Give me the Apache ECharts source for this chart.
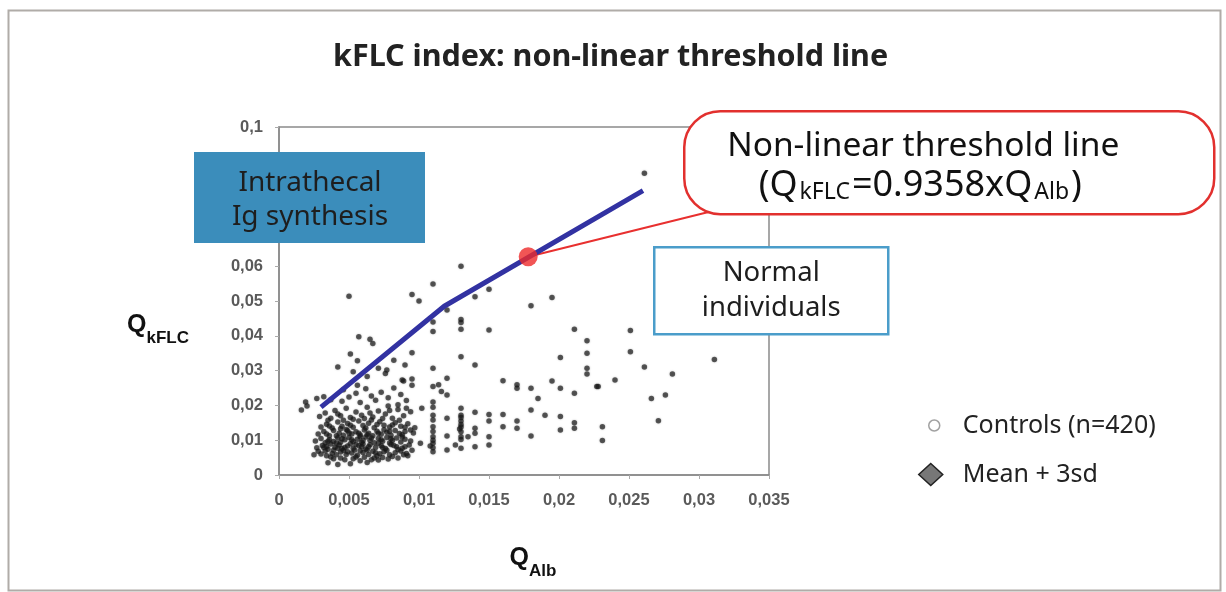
<!DOCTYPE html>
<html>
<head>
<meta charset="utf-8">
<script src="https://cdn.jsdelivr.net/npm/echarts@6/dist/echarts.min.js"></script>
<style>html,body{margin:0;padding:0;background:#fff;}#c{width:1226px;height:592px;}</style>
</head>
<body>
<div id="c"></div>
<script>
// ---- data (QAlb, QkFLC) ----
const controlsCluster = [
[0.0035,0.0035],[0.0042,0.003],[0.0051,0.0032],[0.0058,0.0041],[0.0063,0.0036],[0.0071,0.0043],[0.0078,0.0046],[0.0085,0.0049],[0.0039,0.0047],[0.0047,0.0044],[0.0068,0.0049],[0.0092,0.0055],[0.0055,0.0052],
[0.0025,0.0058],[0.003,0.006],[0.0034,0.0055],[0.0038,0.0062],[0.0041,0.0058],[0.0044,0.0066],[0.0048,0.0059],[0.0052,0.0063],[0.0056,0.0057],[0.006,0.0065],[0.0064,0.0059],[0.0067,0.0068],[0.0072,0.0061],[0.0075,0.0067],[0.0079,0.0058],[0.0083,0.0064],[0.0087,0.0069],[0.0091,0.0062],[0.0095,0.0071],[0.0028,0.0068],[0.0046,0.0071],[0.0058,0.007],[0.007,0.0055],
[0.0027,0.0078],[0.0031,0.0085],[0.0035,0.0074],[0.0037,0.0089],[0.004,0.008],[0.0043,0.0086],[0.0045,0.0076],[0.0049,0.0083],[0.0053,0.0077],[0.0055,0.0088],[0.0059,0.0081],[0.0062,0.0075],[0.0065,0.0087],[0.0069,0.0079],[0.0073,0.0084],[0.0076,0.0076],[0.008,0.0088],[0.0084,0.0081],[0.0088,0.0077],[0.0093,0.0086],[0.0034,0.0082],[0.0051,0.009],[0.0071,0.0091],[0.0047,0.0079],[0.006,0.0089],
[0.0026,0.0098],[0.003,0.0105],[0.0033,0.0093],[0.0036,0.0101],[0.0039,0.0096],[0.0042,0.0107],[0.0044,0.0094],[0.0047,0.0101],[0.005,0.0108],[0.0053,0.0096],[0.0056,0.0103],[0.0059,0.0094],[0.0062,0.0109],[0.0065,0.01],[0.0068,0.0093],[0.0071,0.0105],[0.0074,0.0097],[0.0077,0.0108],[0.0081,0.0099],[0.0084,0.0106],[0.0087,0.0095],[0.009,0.0103],[0.0094,0.0098],[0.0041,0.0092],[0.0058,0.011],[0.0079,0.0092],
[0.0028,0.0118],[0.0032,0.0125],[0.0036,0.0113],[0.0039,0.0128],[0.0043,0.012],[0.0046,0.0114],[0.0049,0.0127],[0.0052,0.0118],[0.0055,0.0124],[0.0058,0.0115],[0.0061,0.0129],[0.0064,0.012],[0.0067,0.0113],[0.007,0.0126],[0.0073,0.0117],[0.0077,0.0123],[0.008,0.0114],[0.0083,0.0128],[0.0086,0.0119],[0.009,0.0125],[0.0096,0.0121],[0.0075,0.013],[0.0048,0.0131],
[0.003,0.0138],[0.0034,0.0146],[0.0038,0.0135],[0.0042,0.0152],[0.0045,0.014],[0.0049,0.0148],[0.0053,0.0137],[0.0057,0.0155],[0.006,0.0142],[0.0064,0.0149],[0.0068,0.0136],[0.0072,0.0153],[0.0075,0.0143],[0.0079,0.0138],[0.0083,0.015],[0.0087,0.014],[0.0092,0.0147],[0.0097,0.0136],[0.0066,0.0158],[0.0046,0.0157],
[0.0029,0.0168],[0.0033,0.0178],[0.0037,0.0163],[0.004,0.0185],[0.0044,0.017],[0.0048,0.0192],[0.0051,0.0165],[0.0055,0.0181],[0.0059,0.0172],[0.0063,0.0195],[0.0067,0.0167],[0.0071,0.0184],[0.0076,0.0175],[0.0081,0.0163],[0.0085,0.0188],[0.0089,0.017],[0.0094,0.0182],[0.0061,0.0162],[0.0078,0.0198],
[0.0016,0.0187],[0.002,0.0198],[0.0019,0.021],[0.0027,0.022],[0.0032,0.0225],[0.0037,0.0216],[0.0045,0.0212],[0.005,0.0224],[0.0055,0.0235],[0.0058,0.0208],[0.0062,0.0248],[0.0066,0.0227],[0.0069,0.0215],[0.0073,0.0238],[0.0078,0.0222],[0.0082,0.025],[0.0087,0.0231],[0.0091,0.0214],[0.0095,0.0258],[0.0085,0.0202],[0.0056,0.0258],[0.0046,0.0245],
[0.0037,0.0052],[0.0044,0.0049],[0.0053,0.0047],[0.0061,0.0051],[0.0066,0.0044],[0.0074,0.005],[0.0081,0.0053],[0.0089,0.0058],
[0.0033,0.0069],[0.0039,0.0071],[0.0049,0.0067],[0.0054,0.0072],[0.0063,0.0072],[0.0069,0.0064],[0.0077,0.0071],[0.0085,0.0073],
[0.0032,0.0079],[0.0042,0.0077],[0.0057,0.0084],[0.0064,0.0081],[0.0074,0.0079],[0.0082,0.0085],[0.009,0.0081],
[0.0035,0.0097],[0.0045,0.0104],[0.0052,0.0101],[0.006,0.0099],[0.0066,0.0106],[0.0073,0.0101],[0.008,0.0104],[0.0088,0.0109],
[0.0034,0.0118],[0.0041,0.0113],[0.005,0.0121],[0.0057,0.012],[0.0063,0.0116],[0.0071,0.012],[0.0079,0.0126],[0.0088,0.0116],[0.0094,0.0129],
[0.0036,0.0141],[0.0044,0.0133],[0.0051,0.0143],[0.0062,0.0135],[0.007,0.0145],[0.0081,0.0144],[0.009,0.0137],
[0.0035,0.0157],[0.0053,0.016],[0.0074,0.0162],[0.0086,0.0157],[0.0042,0.0175],[0.0065,0.0178],[0.0079,0.0185],[0.0091,0.0192]
];
const controlsUpper = [
[0.005,0.0514],[0.0057,0.0397],[0.0065,0.039],[0.0067,0.0378],[0.0051,0.0348],[0.0056,0.0328],[0.0042,0.031],[0.0071,0.0307],[0.0077,0.0302],[0.0076,0.0292],[0.0082,0.033],[0.009,0.0316],[0.0095,0.0351],[0.0063,0.0283],[0.0053,0.0297],[0.0088,0.0273],[0.0095,0.0276],[0.0089,0.027]
];
const controlsRight = [
[0.0095,0.0519],[0.01,0.05],[0.011,0.0549],[0.013,0.06],[0.015,0.0534],[0.014,0.0512],[0.012,0.0474],[0.018,0.0486],[0.0195,0.051],
[0.011,0.044],[0.011,0.0412],[0.013,0.0447],[0.013,0.0438],[0.013,0.0419],[0.015,0.0417],[0.0211,0.0419],[0.022,0.0386],[0.022,0.035],[0.022,0.0307],[0.022,0.029],[0.0201,0.0338],[0.0251,0.0415],[0.0251,0.0354],[0.024,0.0273],[0.0227,0.0254],[0.0195,0.027],[0.0201,0.0249],[0.0211,0.0235],[0.018,0.0249],[0.0185,0.022],[0.018,0.0187],[0.019,0.0172],[0.0201,0.0168],[0.0201,0.0129],[0.0211,0.015],[0.0211,0.0134],[0.018,0.0112],[0.0231,0.0139],[0.0231,0.0099],
[0.016,0.0271],[0.017,0.0259],[0.017,0.0249],[0.016,0.0174],[0.016,0.0139],[0.017,0.0155],[0.017,0.0134],[0.015,0.0174],[0.015,0.0155],[0.015,0.011],[0.015,0.0086],[0.014,0.0316],[0.014,0.018],[0.014,0.0134],[0.014,0.012],[0.014,0.0081],[0.0135,0.011],
[0.013,0.034],[0.013,0.0192],[0.013,0.0172],[0.013,0.0155],[0.013,0.0138],[0.013,0.0124],[0.013,0.0102],[0.013,0.0077],[0.013,0.0145],[0.013,0.011],[0.013,0.0165],[0.0129,0.0132],
[0.012,0.0278],[0.012,0.023],[0.012,0.0163],[0.012,0.0112],[0.012,0.0072],[0.0126,0.0086],[0.0114,0.0259],[0.0116,0.024],[0.011,0.0307],[0.011,0.0254],[0.011,0.021],[0.011,0.0172],[0.011,0.0139],[0.011,0.011],[0.011,0.0091],[0.011,0.0067],[0.011,0.0195],[0.011,0.0158],[0.011,0.0125],[0.011,0.01],[0.011,0.0078],[0.0108,0.0083],
[0.0102,0.0192],[0.0101,0.0091],[0.0261,0.0867],[0.0311,0.0332],[0.0261,0.031],[0.0281,0.029],[0.0266,0.022],[0.0276,0.023],[0.0271,0.0156],[0.0228,0.0254]
];
const thresholdLine = [[0.003,0.0195],[0.0118,0.0485],[0.026,0.0817]];
const highlightPoint = [[0.0178,0.0627]];
const connector = [[0.0178,0.0627],[0.0309,0.0758]];
const xTicks = {min:0, max:0.035, interval:0.005};
const yTicks = {min:0, max:0.1, interval:0.01};
const seriesNames = ['Controls (n=420)', 'Mean + 3sd'];

const controls = controlsCluster.concat(controlsUpper, controlsRight);
const fmt = v => String(v).replace('.', ',');
const FONT = '"Noto Sans", "Open Sans", sans-serif';
const ZT = 100;

const nameRich = {
  q: {fontFamily: 'Liberation Sans', fontSize: 25, fontWeight: 'bold', color: '#111', lineHeight: 44},
  s: {fontFamily: 'Liberation Sans', fontSize: 17, fontWeight: 'bold', color: '#111', lineHeight: 12, verticalAlign: 'bottom'}
};

const chart = echarts.init(document.getElementById('c'));
chart.setOption({
  animation: false,
  backgroundColor: '#fff',
  title: {
    text: 'kFLC index: non-linear threshold line',
    left: 328, top: 37,
    textStyle: {fontFamily: FONT, fontSize: 30.5, fontWeight: 'bold', color: '#222'}
  },
  grid: {left: 279, right: 457, top: 127, bottom: 117, show: true, borderColor: '#8a8a8a', borderWidth: 1.5},
  legend: [
    {orient: 'vertical', left: 928, top: 413, padding: 0, itemWidth: 11, itemHeight: 11, selectedMode: false,
     textStyle: {fontFamily: FONT, fontSize: 25, color: '#222', padding: [0,0,0,18]},
     data: [{name: seriesNames[0], icon: 'circle', itemStyle: {color: '#fff', borderColor: '#8a8a8a', borderWidth: 1.5}}]},
    {orient: 'vertical', left: 918, top: 462, padding: 0, itemWidth: 24, itemHeight: 22, selectedMode: false,
     textStyle: {fontFamily: FONT, fontSize: 25, color: '#222', padding: [0,0,0,15]},
     data: [{name: seriesNames[1], icon: 'diamond', itemStyle: {color: '#777', borderColor: '#222', borderWidth: 1.5}}]}
  ],
  xAxis: {
    type: 'value', min: xTicks.min, max: xTicks.max, interval: xTicks.interval,
    name: '{q|Q}{s|Alb}', nameLocation: 'middle', nameGap: 61,
    nameTextStyle: {rich: nameRich, padding: [0, 0, 0, 18]},
    axisLine: {show: true, lineStyle: {color: '#8a8a8a', width: 1.5}},
    axisTick: {show: true, length: 4, lineStyle: {color: '#aaa'}},
    splitLine: {show: false},
    axisLabel: {formatter: fmt, margin: 17, fontFamily: 'Liberation Sans', fontSize: 16.5, fontWeight: 'bold', color: '#5a5a5a'}
  },
  yAxis: {
    type: 'value', min: yTicks.min, max: yTicks.max, interval: yTicks.interval,
    name: '{q|Q}{s|kFLC}', nameLocation: 'middle', nameRotate: 0, nameGap: 90,
    nameTextStyle: {rich: nameRich, padding: [48, 0, 0, 0]},
    axisLine: {show: true, lineStyle: {color: '#8a8a8a', width: 1.5}},
    axisTick: {show: true, length: 4, lineStyle: {color: '#aaa'}},
    splitLine: {show: false},
    axisLabel: {formatter: fmt, margin: 16, fontFamily: 'Liberation Sans', fontSize: 16.5, fontWeight: 'bold', color: '#5a5a5a'}
  },
  series: [
    {name: seriesNames[0], type: 'scatter', data: controls, symbolSize: 5.5,
     itemStyle: {color: 'rgba(25,25,25,0.85)', shadowBlur: 2, shadowColor: 'rgba(0,0,0,0.4)'}, z: 2},
    {name: 'connector', type: 'line', data: connector, symbol: 'none', lineStyle: {color: '#e8302f', width: 2}, z: 3},
    {name: seriesNames[1], type: 'line', data: thresholdLine, symbol: 'none', lineStyle: {color: '#3232a2', width: 5}, z: 4},
    {name: 'highlight', type: 'scatter', data: highlightPoint, symbolSize: 19, itemStyle: {color: '#ee2b2b'}, z: 5}
  ],
  graphic: [
    {type: 'rect', left: 6, top: 8, z: 0, silent: true,
     shape: {width: 1212, height: 580}, style: {fill: 'none', stroke: '#b0aca8', lineWidth: 2}},
    {type: 'group', left: 194, top: 152, z: ZT, children: [
      {type: 'rect', z: ZT, shape: {width: 231, height: 91}, style: {fill: '#3b8dbb'}},
      {type: 'text', z: ZT + 1, x: 116, y: 31, style: {text: 'Intrathecal', fill: '#1e1e1e', font: '28px ' + FONT, align: 'center', verticalAlign: 'middle'}},
      {type: 'text', z: ZT + 1, x: 116, y: 65, style: {text: 'Ig synthesis', fill: '#1e1e1e', font: '28px ' + FONT, align: 'center', verticalAlign: 'middle'}}
    ]},
    {type: 'group', left: 683, top: 110, z: ZT, children: [
      {type: 'rect', z: ZT, shape: {width: 530, height: 103, r: 36}, style: {fill: '#fff', stroke: '#e2302e', lineWidth: 2.5}},
      {type: 'text', z: ZT + 1, x: 239, y: 35, style: {text: 'Non-linear threshold line', fill: '#111', font: '33.5px ' + FONT, align: 'center', verticalAlign: 'middle'}},
      {type: 'text', z: ZT + 1, x: 236, y: 74, style: {
        text: '{m|(Q}{s|kFLC}{m|=0.9358xQ}{s|Alb}{m|)}', fill: '#111', align: 'center', verticalAlign: 'middle',
        rich: {
          m: {fontFamily: FONT, fontSize: 36, fill: '#111', lineHeight: 38},
          s: {fontFamily: FONT, fontSize: 23, fill: '#111', verticalAlign: 'bottom', lineHeight: 10, padding: [0, 2, 0, 2]}
        }
      }}
    ]},
    {type: 'group', left: 653, top: 246, z: ZT, children: [
      {type: 'rect', z: ZT, shape: {width: 234, height: 87}, style: {fill: '#fff', stroke: '#4b9dca', lineWidth: 2.5}},
      {type: 'text', z: ZT + 1, x: 117, y: 26, style: {text: 'Normal', fill: '#1e1e1e', font: '27.5px ' + FONT, align: 'center', verticalAlign: 'middle'}},
      {type: 'text', z: ZT + 1, x: 117, y: 61, style: {text: 'individuals', fill: '#1e1e1e', font: '27.5px ' + FONT, align: 'center', verticalAlign: 'middle'}}
    ]}
  ]
});
</script>
</body>
</html>
